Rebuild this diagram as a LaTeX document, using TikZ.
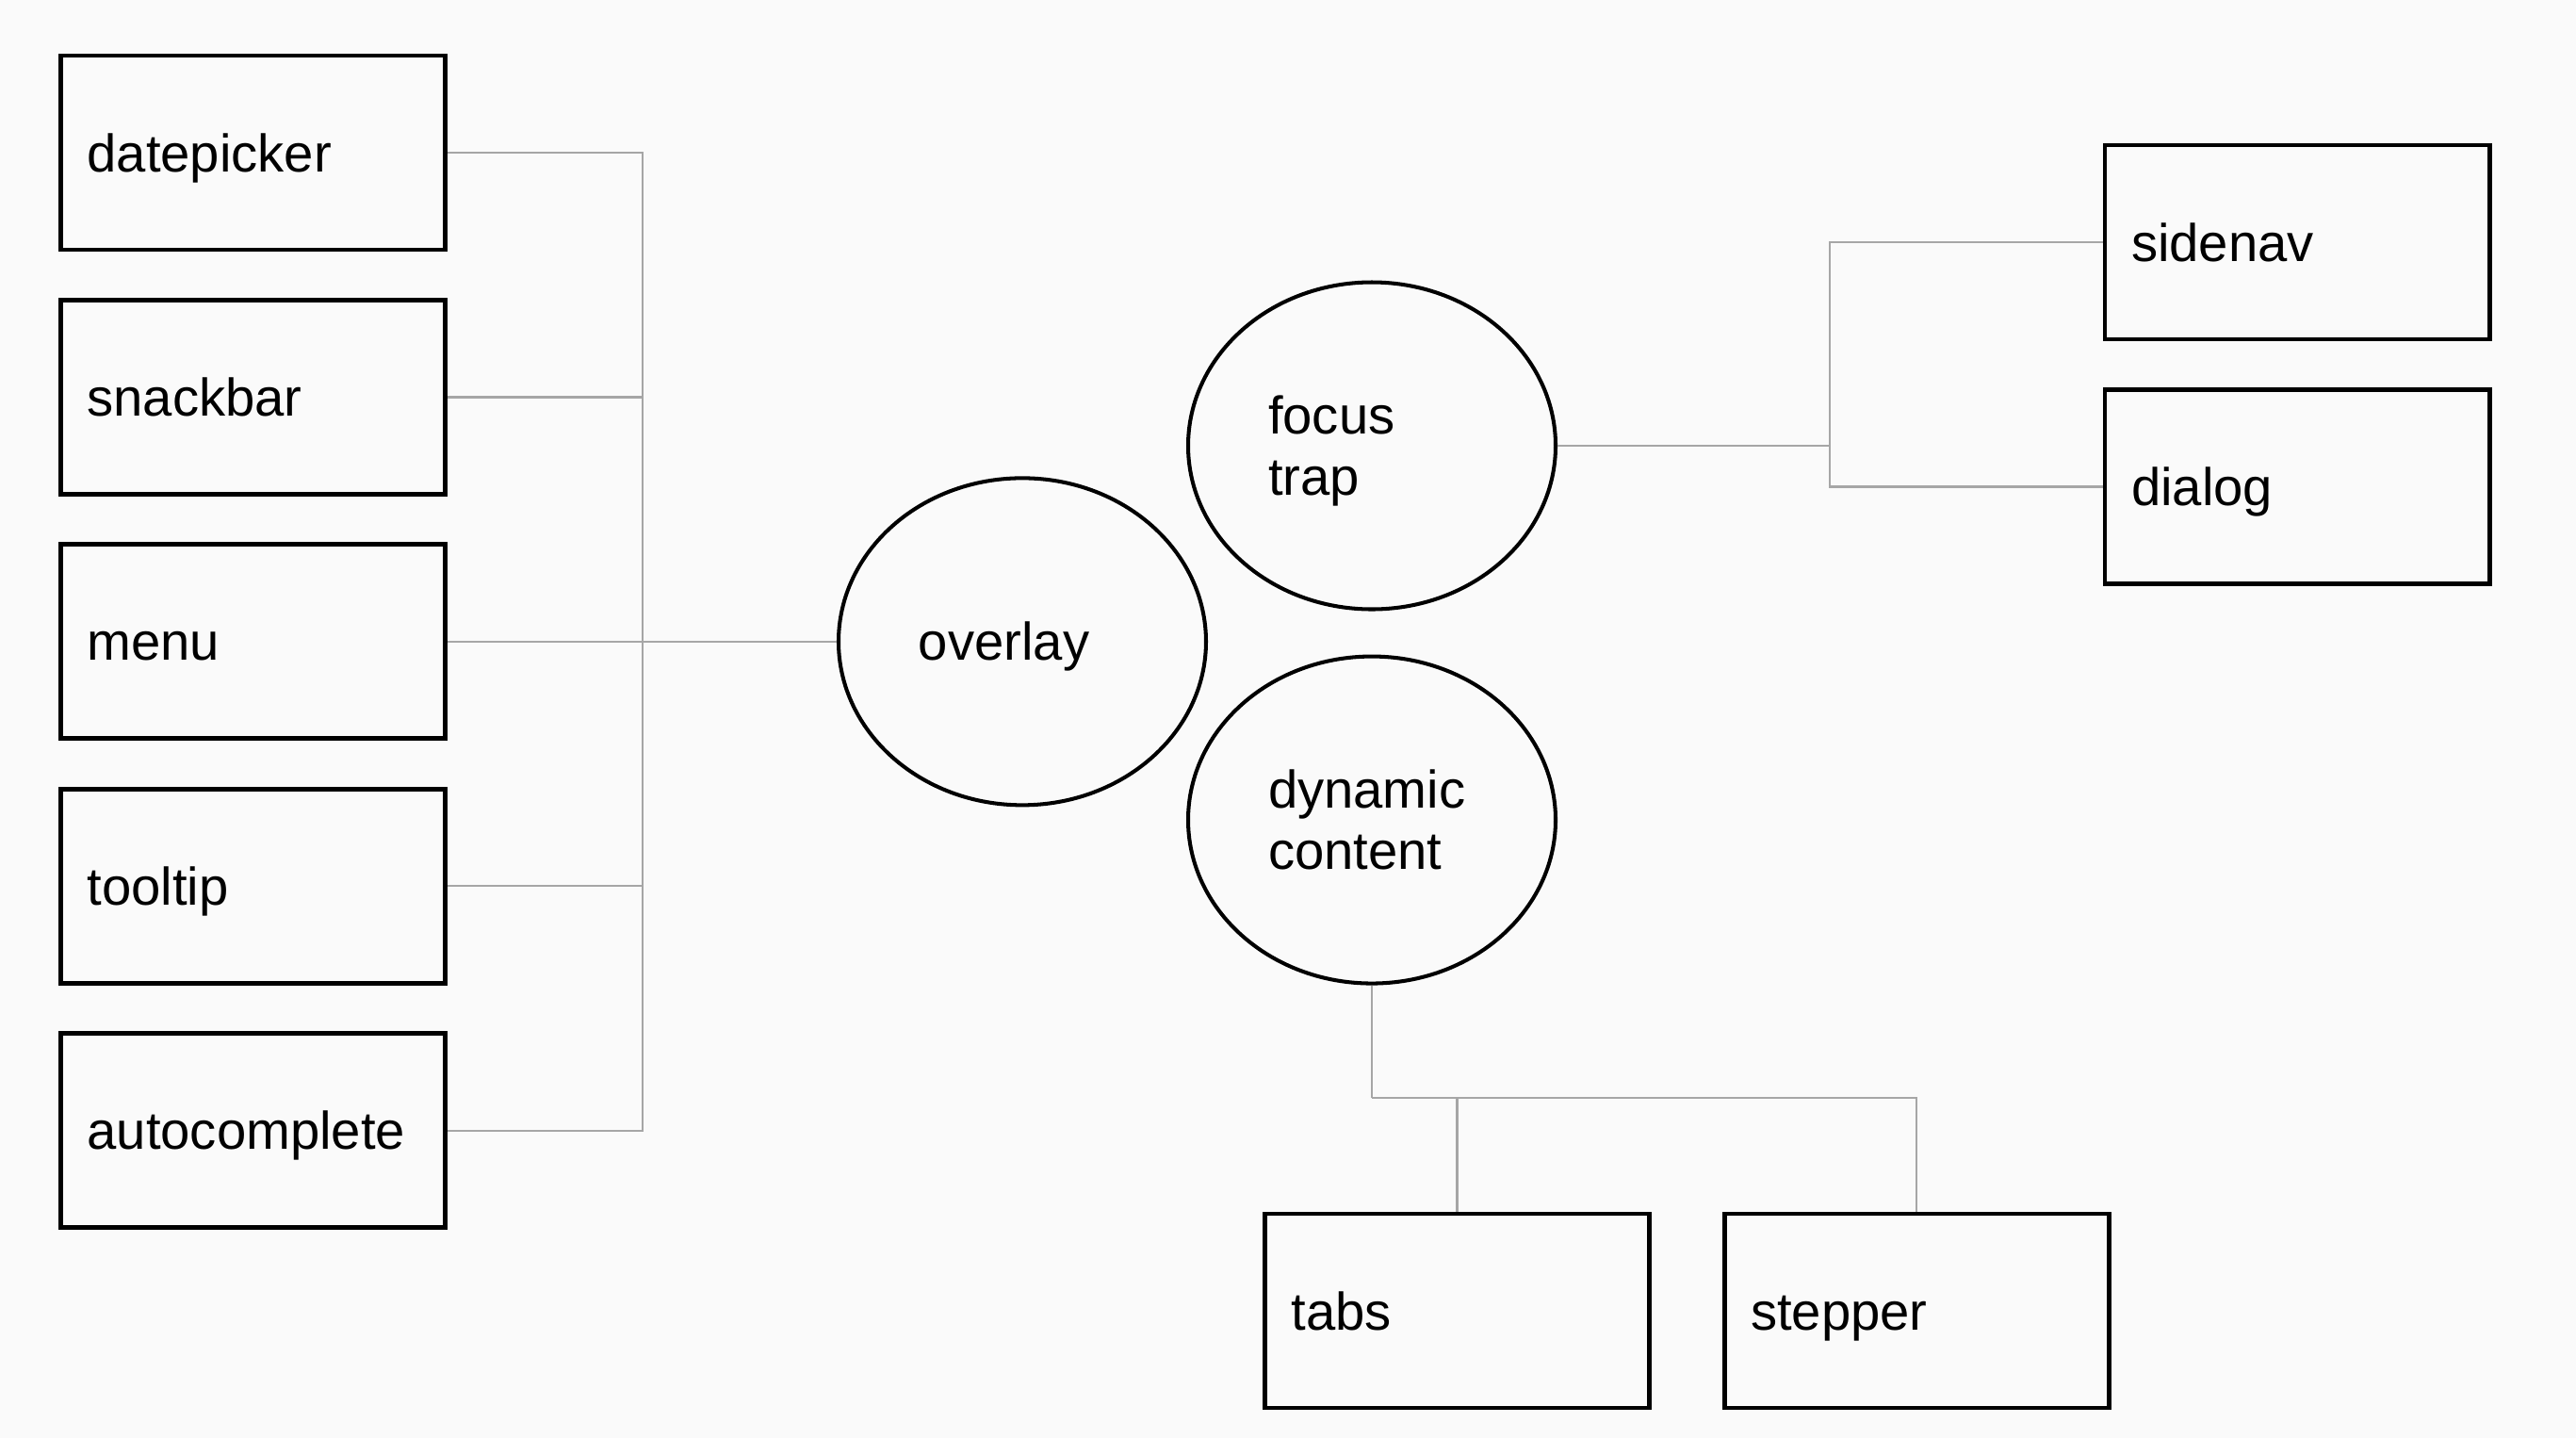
\documentclass[tikz,border=0pt]{standalone}
\usepackage{fontspec}
\setmainfont{Liberation Sans}
\usetikzlibrary{positioning,shapes.geometric}
\definecolor{paper}{HTML}{FAFAFA}
\definecolor{wire}{HTML}{A6A6A6}

\begin{document}
\begin{tikzpicture}[font=\fontsize{16}{18.4}\selectfont,node distance=0.485cm,
    box/.style={draw,rectangle,line width=1.4pt,minimum height=2.06cm,text width=3.52cm,inner xsep=0.28cm,inner ysep=0pt,align=left,text height=11.4pt,text depth=0pt},
    blob/.style={draw,ellipse,line width=1.15pt,minimum width=3.9cm,minimum height=3.47cm,inner sep=0pt,text width=2.2cm,align=left,text height=11.4pt,text depth=18.4pt},
    link/.style={draw=wire,line width=0.65pt}]
    \fill[paper] (0,0) rectangle (27.34,-15.26);
    \useasboundingbox (0,0) rectangle (27.34,-15.26);

    \node[box] (datepicker) at (2.685,-1.62) {datepicker};
    \node[box] (snackbar) [below=of datepicker] {snackbar};
    \node[box] (menu) [below=of snackbar] {menu};
    \node[box] (tooltip) [below=of menu] {tooltip};
    \node[box] (autocomplete) [below=of tooltip] {autocomplete};

    \node[blob,text depth=0pt] (overlay) [right=4.13cm of menu] {overlay};
    \node[blob] (focustrap) at (14.56,-4.73) {focus\\trap};
    \node[blob] (dynamic) [below=0.46cm of focustrap] {dynamic\\content};

    \node[box] (sidenav) at (24.38,-2.57) {sidenav};
    \node[box] (dialog) [below=of sidenav] {dialog};
    \node[box] (tabs) at (15.466,-13.91) {tabs};
    \node[box] (stepper) [right=0.745cm of tabs] {stepper};

    \coordinate (lbus) at (6.82,-6.81);
    \coordinate (rbus) at (19.42,-4.73);
    \coordinate (bbus) at (14.56,-11.65);

    \path[link]
    (datepicker.east) -| (lbus)
    (autocomplete.east) -| (lbus)
    (snackbar.east) -- (snackbar.east -| lbus)
    (menu.east) -- (overlay.west)
    (tooltip.east) -- (tooltip.east -| lbus)

    (focustrap.east) -- (rbus)
    (rbus) |- (sidenav.west)
    (rbus) |- (dialog.west)

    (dynamic.south) -- (bbus)
    (bbus) -| (tabs.north)
    (bbus) -| (stepper.north)
    ;
\end{tikzpicture}
\end{document}
